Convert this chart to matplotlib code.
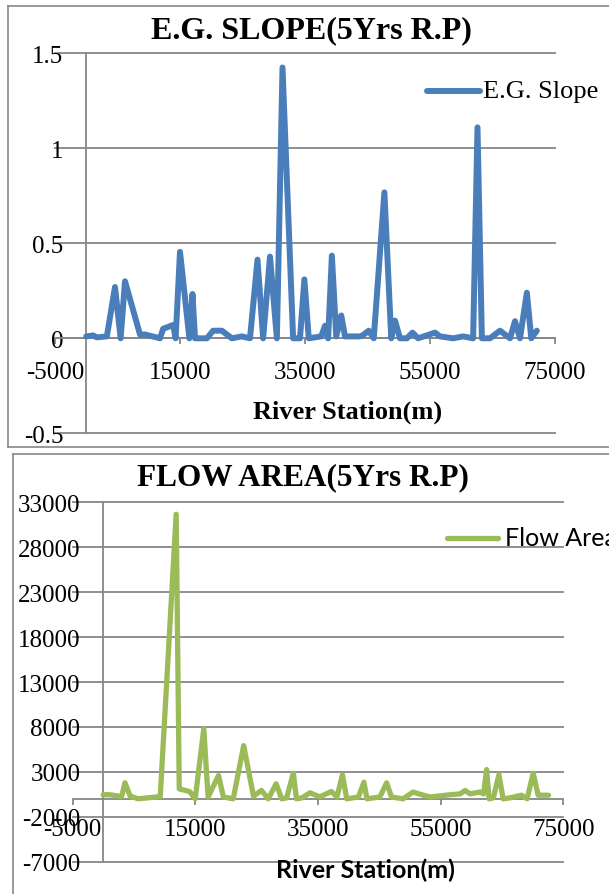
import matplotlib
matplotlib.use("Agg")
import matplotlib.pyplot as plt
from matplotlib.lines import Line2D

# ---------------- data ----------------
eg_station = [0, 1100, 1700, 3300, 4600, 5500, 6200, 8600, 9400, 11800, 12300, 13900,
              14300, 15000, 16500, 17000, 17400, 19300, 20300, 21700, 23300, 24900,
              26200, 27400, 28300, 29400, 30500, 31400, 33100, 34200, 34900, 35600,
              37600, 38200, 38700, 39300, 40000, 40800, 41400, 43800, 44300, 45200,
              46000, 47700, 48800, 49400, 50200, 51300, 52200, 53100, 55800, 56600,
              58700, 60300, 61900, 62600, 63300, 64600, 66200, 67800, 68600, 69400,
              70500, 71200, 72100]
eg_slope = [0.01, 0.015, 0.005, 0.01, 0.27, 0.0, 0.30, 0.02, 0.02, 0.0, 0.05, 0.07,
            0.0, 0.455, 0.0, 0.233, 0.0, 0.0, 0.04, 0.04, 0.0, 0.01,
            0.0, 0.414, 0.0, 0.43, 0.0, 1.425, 0.0, 0.0, 0.31, 0.0,
            0.01, 0.066, 0.0, 0.435, 0.01, 0.12, 0.01, 0.01, 0.017, 0.04,
            0.0, 0.768, 0.0, 0.093, 0.0, 0.0, 0.03, 0.0, 0.03, 0.01,
            0.0, 0.01, 0.0, 1.11, 0.0, 0.0, 0.04, 0.0, 0.09, 0.0,
            0.24, 0.0, 0.04]

fa_station = [0, 1100, 3000, 3550, 4400, 5700, 9300, 11900, 12400, 13600, 14100, 15000,
              16400, 17100, 18800, 19600, 21200, 22900, 24500, 25800, 26900, 28200,
              29100, 29900, 31000, 31500, 32400, 33700, 35300, 37200, 38100, 39000,
              39700, 41600, 42500, 43000, 45100, 46200, 47000, 48900, 50500, 52200,
              53300, 56500, 58200, 59000, 59800, 61400, 62000, 62500, 62900, 63600,
              64500, 65200, 66300, 68200, 69100, 70100, 70900, 72600]
fa_area = [450, 450, 250, 1780, 300, 0, 250, 31670, 1100, 900, 800, 0,
           7780, 200, 2590, 200, 0, 5920, 300, 930, 0, 1670,
           0, 100, 2850, 0, 100, 670, 220, 810, 200, 2670,
           0, 200, 1850, 0, 200, 1780, 200, 0, 750, 400,
           200, 450, 550, 930, 550, 750, 550, 3260, 0, 100,
           2670, 0, 100, 400, 0, 2850, 400, 400]

x_ticks = [-5000, 15000, 35000, 55000, 75000]
top_yticks = [-0.5, 0, 0.5, 1, 1.5]
top_ylabels = ["-0.5", "0", "0.5", "1", "1.5"]
bot_yticks = [-7000, -2000, 3000, 8000, 13000, 18000, 23000, 28000, 33000]

# ---------------- figure ----------------
W, H = 609, 895
DPI = 100
fig = plt.figure(figsize=(W / DPI, H / DPI), dpi=DPI)
fig.patch.set_facecolor("white")

SERIF = ["Liberation Serif", "DejaVu Serif"]
SANS = ["Lato", "DejaVu Sans"]
GRID = "#878787"
BLUE = "#4A7EBB"
GREEN = "#9BBB59"


def fx(px):
    return px / W


def fy(py):
    return 1 - py / H


def add_frame(x0, y0, x1, y1):
    for xs, ys in (([x0, x1], [y0, y0]), ([x0, x0], [y0, y1]), ([x0, x1], [y1, y1])):
        fig.add_artist(Line2D([fx(v) for v in xs], [fy(v) for v in ys],
                              transform=fig.transFigure, color=GRID, lw=1.2))


add_frame(8, 7, 640, 448)
add_frame(13, 455, 640, 940)


def style_axes(ax, ylim, yticks, ylabels, ypad, xpad):
    ax.set_xlim(-5000, 75000)
    ax.set_ylim(*ylim)
    for s in ("top", "right"):
        ax.spines[s].set_visible(False)
    ax.spines["left"].set_position(("data", 0))
    ax.spines["bottom"].set_position(("data", 0))
    for s in ("left", "bottom"):
        ax.spines[s].set_color(GRID)
        ax.spines[s].set_linewidth(1.3)
    ax.set_yticks(yticks)
    ax.set_yticklabels(ylabels)
    ax.set_xticks(x_ticks)
    ax.set_xticklabels([str(v) for v in x_ticks])
    ax.tick_params(axis="y", length=0, pad=ypad)
    ax.tick_params(axis="x", length=4.5, width=1.3, color=GRID, direction="out", pad=xpad)
    for lab in ax.get_xticklabels() + ax.get_yticklabels():
        lab.set_fontfamily(SERIF)
        lab.set_fontsize(18)
    for yv in yticks:
        ax.plot([-5000, 75000], [yv, yv], color=GRID, lw=1.3, zorder=0.5, clip_on=False)
    ax.set_facecolor("none")


# ---------- top: E.G. slope ----------
ax1 = fig.add_axes([fx(55), fy(434.3), fx(555) - fx(55), fy(54.3) - fy(434.3)])
style_axes(ax1, (-0.5, 1.5), top_yticks, top_ylabels, ypad=16.5, xpad=12)
ax1.plot(eg_station, eg_slope, color=BLUE, lw=4.3, solid_joinstyle="round",
         solid_capstyle="round", zorder=3, clip_on=False)
fig.text(fx(311.5), fy(31), "E.G. SLOPE(5Yrs R.P)", family=SERIF, weight="bold",
         fontsize=23, ha="center", va="center")
fig.text(fx(348), fy(412), "River Station(m)", family=SERIF, weight="bold",
         fontsize=19, ha="center", va="center")
fig.add_artist(Line2D([fx(427), fx(480)], [fy(92), fy(92)], transform=fig.transFigure,
                      color=BLUE, lw=4.3, solid_capstyle="round"))
fig.text(fx(483), fy(92), "E.G. Slope", family=SERIF, fontsize=19, ha="left", va="center")

# ---------- bottom: flow area ----------
ax2 = fig.add_axes([fx(72.5), fy(862.7), fx(563.3) - fx(72.5), fy(503.3) - fy(862.7)])
style_axes(ax2, (-7000, 33000), bot_yticks, [str(v) for v in bot_yticks], ypad=16.5, xpad=9)
ax2.plot(fa_station, fa_area, color=GREEN, lw=3.8, solid_joinstyle="round",
         solid_capstyle="round", zorder=3, clip_on=False)
fig.text(fx(303), fy(478), "FLOW AREA(5Yrs R.P)", family=SERIF, weight="bold",
         fontsize=22.5, ha="center", va="center")
fig.text(fx(365), fy(870), "River Station(m)", family=SANS, weight="bold",
         fontsize=18, ha="center", va="center")
fig.add_artist(Line2D([fx(447), fx(498)], [fy(539), fy(539)], transform=fig.transFigure,
                      color=GREEN, lw=3.8, solid_capstyle="round"))
fig.text(fx(505), fy(539), "Flow Area", family=SANS, fontsize=18, ha="left", va="center")

fig.savefig("out.png", dpi=DPI, facecolor="white")
